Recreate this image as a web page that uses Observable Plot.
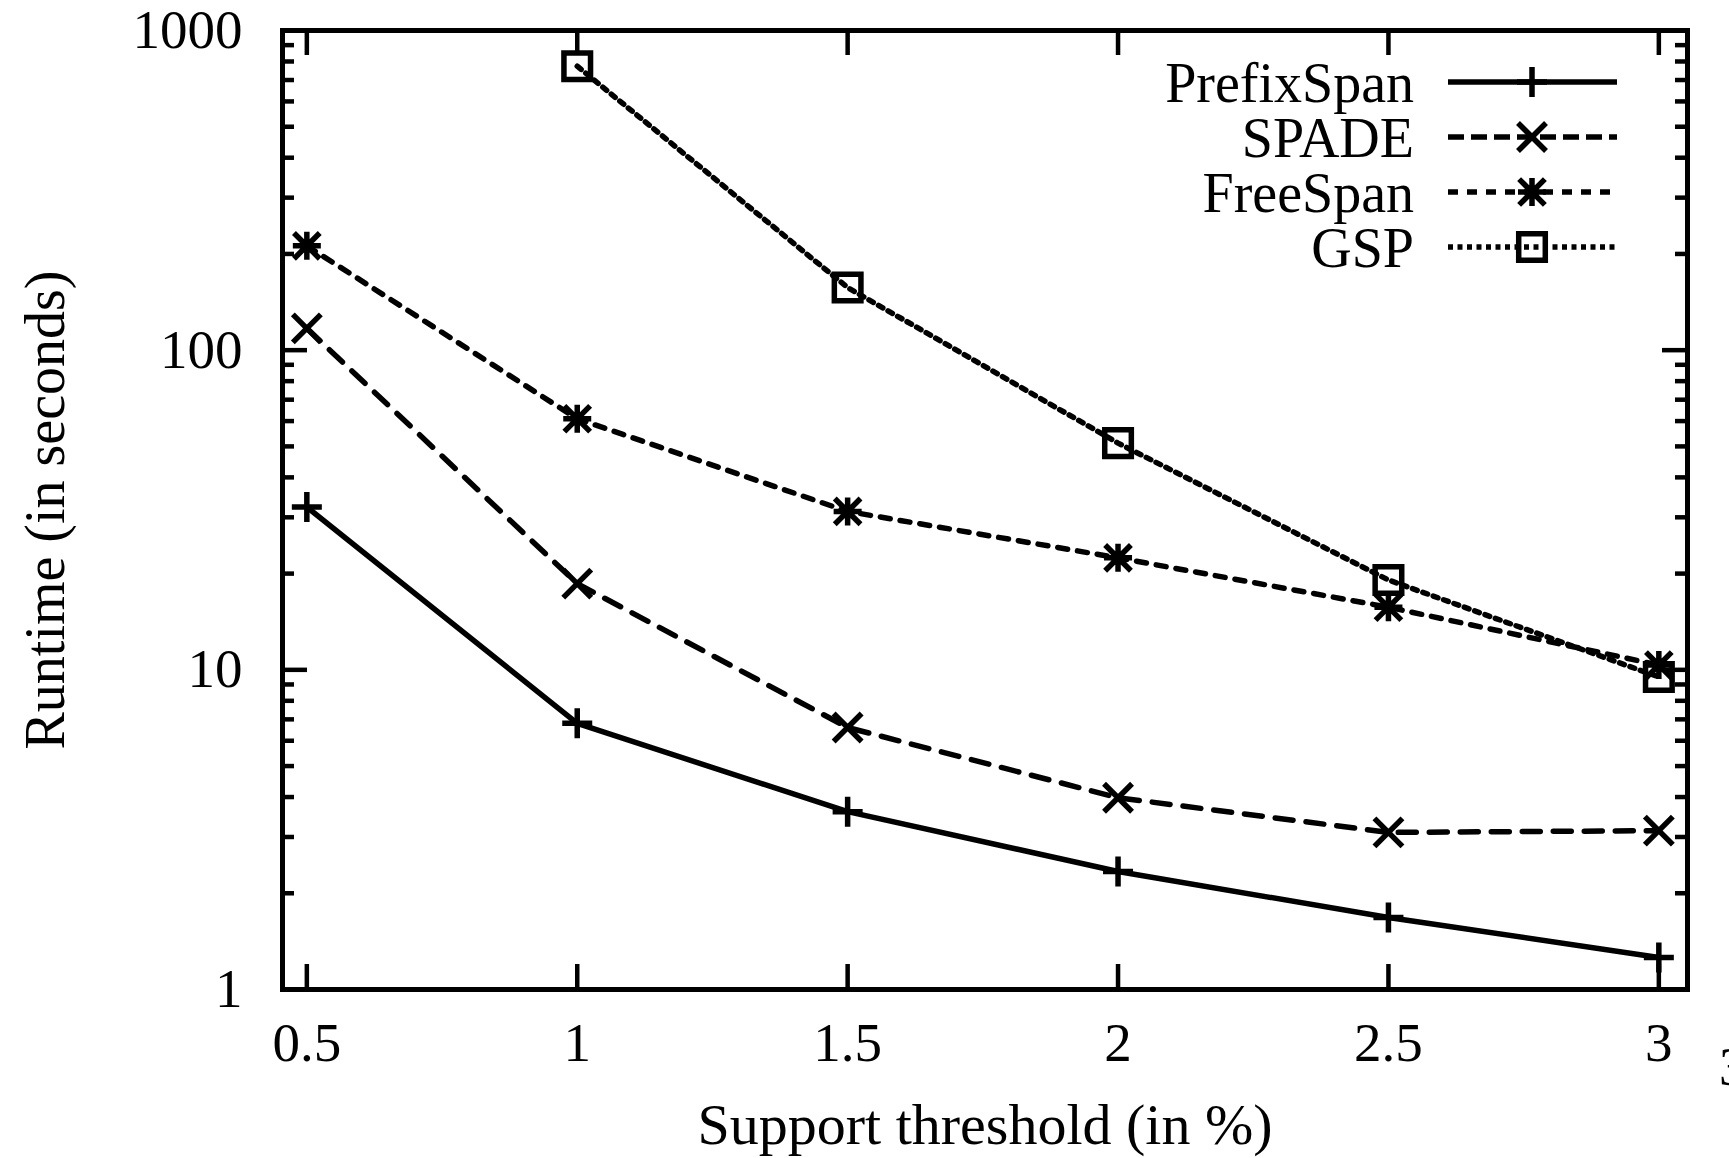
<!DOCTYPE html>
<html>
<head>
<meta charset="utf-8">
<script src="https://cdn.jsdelivr.net/npm/d3@7"></script>
<script src="https://cdn.jsdelivr.net/npm/@observablehq/plot@0.6"></script>
<style>
  html, body { margin: 0; padding: 0; background: #fff; overflow: hidden; }
  #wrap { position: relative; width: 1729px; height: 1158px; overflow: hidden; }
  #legend { position: absolute; left: 0; top: 0; pointer-events: none; }
  #stray { position: absolute; left: 1719px; top: 1036px; font: 54px "Liberation Serif", serif; }
</style>
</head>
<body>
<div id="wrap"></div>
<script>
// ---- data ----
const support = [0.5, 1, 1.5, 2, 2.5, 3];
const prefixSpan = [32.3, 6.8, 3.6, 2.34, 1.68, 1.26];
const spade      = [117, 18.6, 6.6, 3.98, 3.1, 3.14];
const freeSpan   = [212, 61, 31.3, 22.4, 15.7, 10.35];
const gsp        = [null, 773, 157, 51.2, 19.1, 9.5];
const seriesNames = ["PrefixSpan", "SPADE", "FreeSpan", "GSP"];
const xTickValues = [0.5, 1, 1.5, 2, 2.5, 3];
const yTickValues = [1, 10, 100, 1000];
const yMinorValues = [2, 3, 4, 5, 6, 7, 8, 9, 20, 30, 40, 50, 60, 70, 80, 90, 200, 300, 400, 500, 600, 700, 800, 900];
const xLabel = "Support threshold (in %)";
const yLabel = "Runtime (in seconds)";

// ---- layout / style ----
const FONT = '"Liberation Serif", "Times New Roman", serif';
const W = 1729, H = 1158, mL = 282, mR = 42, mT = 30, mB = 169;
const innerW = W - mL - mR, innerH = H - mT - mB;

const sym = (f) => ({ draw(c, s) { f(c, Math.sqrt(s / Math.PI)); } });
const plusSym = sym((c, r) => { c.moveTo(-r, 0); c.lineTo(r, 0); c.moveTo(0, -r); c.lineTo(0, r); });
const timesSym = sym((c, r) => { c.moveTo(-r, -r); c.lineTo(r, r); c.moveTo(-r, r); c.lineTo(r, -r); });
const starSym = sym((c, r) => {
  c.moveTo(-r, 0); c.lineTo(r, 0); c.moveTo(0, -r); c.lineTo(0, r);
  const q = r * 0.92; c.moveTo(-q, -q); c.lineTo(q, q); c.moveTo(-q, q); c.lineTo(q, -q);
});
const boxSym = sym((c, r) => { c.rect(-r, -r, 2 * r, 2 * r); });

const styles = {
  PrefixSpan: { dash: null, legendDash: null, symbol: plusSym, r: 15 },
  SPADE:      { dash: "18,13", legendDash: "16,7", symbol: timesSym, r: 14 },
  FreeSpan:   { dash: "10,10", legendDash: "10,9", symbol: starSym, r: 14 },
  GSP:        { dash: "5,6", legendDash: "5,4.5", symbol: boxSym, r: 13.3 }
};
const valuesBySeries = { PrefixSpan: prefixSpan, SPADE: spade, FreeSpan: freeSpan, GSP: gsp };

const rows = seriesNames.map(name =>
  support.map((x, i) => ({ series: name, x, y: valuesBySeries[name][i] })).filter(d => d.y != null)
);

const seriesMarks = rows.flatMap((data, k) => {
  const st = styles[seriesNames[k]];
  return [
    Plot.line(data, { x: "x", y: "y", stroke: "#000", strokeWidth: 5.5, strokeDasharray: st.dash, strokeLinejoin: "round" }),
    Plot.dot(data, { x: "x", y: "y", symbol: st.symbol, r: st.r, fill: "none", stroke: "#000", strokeWidth: 5.5 })
  ];
});

const plot = Plot.plot({
  width: W, height: H,
  marginLeft: mL, marginRight: mR, marginTop: mT, marginBottom: mB,
  style: { fontFamily: FONT, fontSize: "54px", color: "#000", background: "#fff", overflow: "visible" },
  x: { domain: [0.455, 3.053], label: null },
  y: { type: "log", domain: [1, 1000], label: null },
  marks: [
    // inward ticks on all four sides
    Plot.tickX(xTickValues, { x: d => d, insetTop: innerH - 25, stroke: "#000", strokeWidth: 4.5 }),
    Plot.tickX(xTickValues, { x: d => d, insetBottom: innerH - 25, stroke: "#000", strokeWidth: 4.5 }),
    Plot.tickY(yTickValues, { y: d => d, insetRight: innerW - 25, stroke: "#000", strokeWidth: 4.5 }),
    Plot.tickY(yTickValues, { y: d => d, insetLeft: innerW - 25, stroke: "#000", strokeWidth: 4.5 }),
    Plot.tickY(yMinorValues, { y: d => d, insetRight: innerW - 12, stroke: "#000", strokeWidth: 4.5 }),
    Plot.tickY(yMinorValues, { y: d => d, insetLeft: innerW - 12, stroke: "#000", strokeWidth: 4.5 }),
    Plot.axisX({ ticks: xTickValues, tickFormat: d => String(d), tickSize: 0, tickPadding: 32, fontSize: 55 }),
    Plot.axisY({ ticks: yTickValues, tickFormat: d => String(d), tickSize: 0, tickPadding: 40, fontSize: 55 }),
    ...seriesMarks,
    Plot.frame({ stroke: "#000", strokeWidth: 5 }),
    Plot.text([xLabel], { text: d => d, frameAnchor: "bottom", lineAnchor: "middle", dy: 136, fontSize: 58 }),
    Plot.text([yLabel], { text: d => d, frameAnchor: "left", textAnchor: "middle", lineAnchor: "middle", dx: -236, rotate: -90, fontSize: 56 })
  ]
});

const wrap = document.getElementById("wrap");
wrap.appendChild(plot);

// ---- legend (inside the plot, top right) ----
const legendRowsY = [82, 137, 192, 247];
const legendTextRight = 1414, legendLineX1 = 1448, legendLineX2 = 1617, legendMarkX = 1532;
const lg = d3.create("svg").attr("id", "legend").attr("width", W).attr("height", H);
seriesNames.forEach((name, i) => {
  const st = styles[name];
  const y = legendRowsY[i];
  lg.append("text").attr("x", legendTextRight).attr("y", y).attr("dy", "0.35em")
    .attr("text-anchor", "end").attr("font-family", FONT).attr("font-size", 56).attr("fill", "#000").text(name);
  lg.append("line").attr("x1", legendLineX1).attr("x2", legendLineX2).attr("y1", y).attr("y2", y)
    .attr("stroke", "#000").attr("stroke-width", 5.5).attr("stroke-dasharray", st.legendDash);
  const p = d3.path();
  st.symbol.draw(p, st.r * st.r * Math.PI);
  lg.append("path").attr("d", p.toString()).attr("transform", `translate(${legendMarkX},${y})`)
    .attr("fill", "none").attr("stroke", "#000").attr("stroke-width", 5.5);
});
wrap.appendChild(lg.node());

const stray = document.createElement("div");
stray.id = "stray";
stray.textContent = "3";
wrap.appendChild(stray);
</script>
</body>
</html>
